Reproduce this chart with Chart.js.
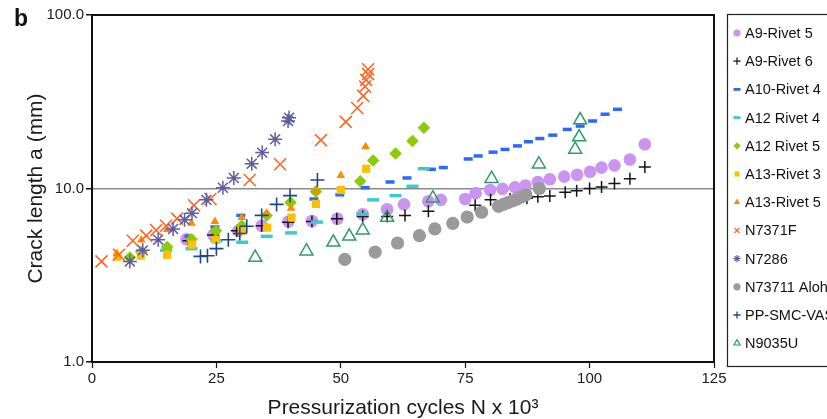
<!DOCTYPE html>
<html>
<head>
<meta charset="utf-8">
<script src="https://cdn.jsdelivr.net/npm/chart.js"></script>
<style>
    html, body { margin: 0; padding: 0; background: #fff; overflow: hidden; }
    #wrap { position: relative; width: 880px; height: 419px; }
    #panel { position: absolute; left: 14px; top: 5px; font: bold 23px "Liberation Sans", Arial, sans-serif; color: #111; }
</style>
</head>
<body>
<div id="wrap">
    <canvas id="crackChart"></canvas>
    <div id="panel">b</div>
</div>
<script>
/* ============================================
   DATA  (x = cycles x10^3, y = crack length mm)
============================================ */
const seriesNames = [
    'A9-Rivet 5', 'A9-Rivet 6', 'A10-Rivet 4', 'A12 Rivet 4',
    'A12 Rivet 5', 'A13-Rivet 3', 'A13-Rivet 5', 'N7371F',
    'N7286', 'N73711 Aloha', 'PP-SMC-VASI', 'N9035U'
];
const xTicks = [0, 25, 50, 75, 100, 125];
const yTicks = [1, 10, 100];

const a9Rivet5 = [[19.0,5.1],[24.4,5.4],[29.4,5.7],[34.1,6.1],[39.5,6.45],[44.2,6.5],[49.3,6.7],[54.4,7.1],
    [59.3,7.6],[62.7,8.1],[67.6,8.45],[70.1,8.6],[75.0,8.7],[77.1,9.4],[80.0,9.8],[82.5,9.95],[85.0,10.15],
    [87.1,10.4],[89.6,10.9],[92.0,11.3],[94.9,11.7],[97.5,12.0],[100.1,12.5],[102.4,13.2],[105.0,13.6],
    [108.1,14.7],[111.1,18.0]];
const a9Rivet6 = [[19.4,5.0],[24.3,5.4],[29.1,5.7],[34.1,6.1],[39.4,6.4],[44.2,6.45],[49.2,6.7],[54.4,6.9],
    [59.3,6.9],[62.9,7.0],[67.6,7.4],[77.0,8.0],[80.1,8.6],[84.0,8.7],[87.4,8.8],[89.6,8.95],[92.0,9.05],
    [95.1,9.5],[97.4,9.7],[100.0,10.0],[102.4,10.2],[105.0,10.7],[108.1,11.4],[111.1,13.3]];
const a10Rivet4 = [[19.5,5.3],[24.7,6.0],[29.9,7.0],[44.6,8.7],[49.8,9.2],[54.9,10.1],[59.9,10.9],[63.3,11.5],
    [68.2,12.9],[70.6,13.2],[75.6,14.8],[77.6,15.4],[80.6,16.2],[83.0,16.8],[85.5,17.6],[87.7,18.6],
    [90.0,19.4],[92.6,20.3],[95.5,21.9],[98.1,22.9],[100.6,24.5],[103.1,26.8],[105.6,28.6]];
const a12Rivet4 = [[14.9,4.4],[20.0,4.5],[25.0,5.0],[30.2,4.9],[35.1,5.3],[40.0,5.55],[45.2,6.4],
    [54.3,7.1],[56.5,8.6],[61.0,9.1],[64.4,10.3],[66.7,13.0]];
const a12Rivet5 = [[7.6,4.0],[9.9,4.3],[15.1,4.6],[20.0,5.1],[24.9,5.7],[30.1,6.1],[35.1,7.0],[39.9,8.3],
    [45.0,9.6],[53.9,11.0],[56.5,14.5],[61.0,15.9],[64.4,18.8],[66.7,22.4]];
const a13Rivet3 = [[5.1,4.05],[9.8,4.1],[15.1,4.15],[20.1,4.75],[24.9,5.05],[30.1,5.75],[35.2,5.95],
    [40.1,6.8],[45.0,8.15],[50.0,9.8],[55.1,13.0]];
const a13Rivet5 = [[5.0,4.2],[9.9,5.05],[15.1,5.8],[20.0,6.3],[24.7,6.45],[30.1,6.8],[35.1,7.2],[40.0,7.7],
    [45.0,9.6],[50.0,11.9],[55.0,17.4]];
const n7371F = [[1.9,3.8],[5.4,4.15],[8.2,5.0],[10.9,5.35],[12.9,5.75],[14.9,6.1],[17.1,6.7],[20.5,8.0],
    [23.8,8.7],[31.7,11.2],[37.8,13.8],[46.0,19.0],[51.0,24.2],[53.3,29.1],[54.5,34.2],[54.9,38.7],
    [55.1,42.3],[55.5,45.6],[55.5,48.7]];
const n7286 = [[7.6,3.8],[10.2,4.4],[13.3,5.07],[16.3,5.85],[18.6,6.6],[20.1,7.2],[23.0,8.6],[26.3,10.1],
    [28.5,11.5],[32.1,13.9],[34.2,16.1],[36.8,19.2],[39.4,24.5],[39.6,25.6]];
const n73711Aloha = [[50.8,3.9],[56.9,4.3],[61.4,4.85],[65.8,5.35],[68.9,5.85],[72.5,6.3],[75.4,6.85],
    [78.3,7.3],[81.7,7.9],[82.7,8.1],[83.6,8.3],[84.5,8.5],[85.4,8.7],[86.3,8.95],[87.2,9.2],[89.9,10.0]];
const ppSmcVasi = [[21.8,4.06],[23.2,4.1],[25.0,4.5],[27.4,5.07],[29.7,5.5],[31.1,6.06],[34.1,7.0],
    [37.1,8.1],[39.8,9.1],[45.3,11.2]];
const n9035U = [[32.8,4.0],[43.1,4.35],[48.5,4.9],[51.7,5.3],[54.4,5.75],[59.3,6.8],[68.5,8.8],[80.3,11.4],
    [89.8,13.8],[97.1,16.8],[97.9,19.8],[98.1,24.8]];

const seriesData = [a9Rivet5, a9Rivet6, a10Rivet4, a12Rivet4, a12Rivet5, a13Rivet3,
    a13Rivet5, n7371F, n7286, n73711Aloha, ppSmcVasi, n9035U];

/* ============================================
   MARKER STYLES
============================================ */
const markerStyles = [
    { style: 'circle',   color: '#c994f2', r: 6.3, fill: true,  lw: 0 },
    { style: 'cross',    color: '#151515', r: 6,   fill: false, lw: 1.5 },
    { style: 'line',     color: '#2b68ff', r: 4.5, fill: false, lw: 3.5 },
    { style: 'line',     color: '#3ccacc', r: 6,   fill: false, lw: 3.5 },
    { style: 'rectRot',  color: '#8ccb0c', r: 6.3, fill: true,  lw: 0 },
    { style: 'rect',     color: '#ffc000', r: 5.8, fill: true,  lw: 0 },
    { style: 'triangle', color: '#ff8a00', r: 5,   fill: true,  lw: 0 },
    { style: 'crossRot', color: '#ff6624', r: 8.5, fill: false, lw: 1.6 },
    { style: 'star',     color: '#5d5ea2', r: 7,   fill: false, lw: 1.5 },
    { style: 'circle',   color: '#9a9a9a', r: 6.6, fill: true,  lw: 0 },
    { style: 'cross',    color: '#1d4a80', r: 7,   fill: false, lw: 1.6 },
    { style: 'triangle', color: '#2f9c66', r: 7.5, fill: false, lw: 1.5 }
];

const FONT = "'Liberation Sans', Arial, sans-serif";

/* ============================================
   PLUGINS: frame + boxed legend
============================================ */
const framePlugin = {
    id: 'frame',
    beforeDatasetsDraw(chart) {
        const { ctx, chartArea: a } = chart;
        ctx.save();
        ctx.strokeStyle = '#111';
        ctx.lineWidth = 2;
        ctx.strokeRect(a.left, a.top, a.right - a.left, a.bottom - a.top);
        ctx.restore();
    }
};

const legendBoxPlugin = {
    id: 'legendBox',
    afterDraw(chart) {
        const ctx = chart.ctx;
        ctx.save();
        ctx.strokeStyle = '#222';
        ctx.lineWidth = 1.2;
        ctx.strokeRect(727.5, 14.5, 300, 352);
        ctx.font = '14.5px ' + FONT;
        ctx.textBaseline = 'middle';
        ctx.textAlign = 'left';
        seriesNames.forEach((name, i) => {
            const y = 33 + i * 28.2;
            const m = markerStyles[i];
            ctx.fillStyle = m.fill ? m.color : 'rgba(0,0,0,0)';
            ctx.strokeStyle = m.color;
            ctx.lineWidth = m.fill ? 0 : Math.max(1.2, m.lw * 0.8);
            Chart.helpers.drawPoint(ctx, {
                pointStyle: m.style,
                radius: m.style === 'line' ? 3.5 : 3.6,
                rotation: 0,
                borderWidth: m.fill ? 0 : ctx.lineWidth
            }, 737, y);
            ctx.fillStyle = '#111';
            ctx.fillText(name, 745, y + 1);
        });
        ctx.restore();
    }
};

/* ============================================
   SCATTER CHART
============================================ */
function initCrackChart() {
    const canvas = document.getElementById('crackChart');
    if (!canvas) return;

    const datasets = seriesNames.map((name, i) => {
        const m = markerStyles[i];
        return {
            label: name,
            data: seriesData[i].map(p => ({ x: p[0], y: p[1] })),
            pointStyle: m.style,
            pointRadius: m.r,
            pointHoverRadius: m.r,
            backgroundColor: m.fill ? m.color : 'rgba(0,0,0,0)',
            borderColor: m.color,
            borderWidth: m.lw,
            showLine: false,
            order: -i
        };
    });

    new Chart(canvas.getContext('2d'), {
        type: 'scatter',
        data: { datasets },
        options: {
            responsive: true,
            maintainAspectRatio: false,
            animation: false,
            layout: { padding: { left: 0, top: 15, right: 166, bottom: 0 } },
            plugins: {
                legend: { display: false },
                tooltip: { enabled: false }
            },
            scales: {
                x: {
                    type: 'linear',
                    min: xTicks[0],
                    max: xTicks[xTicks.length - 1],
                    afterBuildTicks: s => { s.ticks = xTicks.map(v => ({ value: v })); },
                    afterFit: s => { s.height = 57; },
                    grid: { drawOnChartArea: false, tickLength: 6, tickColor: '#111', tickWidth: 1.2 },
                    border: { display: true, color: '#111', width: 2 },
                    ticks: {
                        color: '#1a1a1a',
                        padding: 2,
                        maxRotation: 0,
                        font: { family: FONT, size: 15 }
                    },
                    title: {
                        display: true,
                        text: 'Pressurization cycles N x 10³',
                        color: '#1a1a1a',
                        font: { family: FONT, size: 21, lineHeight: 1 },
                        padding: { top: 0, bottom: 0 }
                    }
                },
                y: {
                    type: 'logarithmic',
                    min: yTicks[0],
                    max: yTicks[yTicks.length - 1],
                    afterBuildTicks: s => { s.ticks = yTicks.map(v => ({ value: v })); },
                    afterFit: s => { s.width = 92; },
                    grid: {
                        color: c => (c.tick && c.tick.value === 10) ? '#8a8a8a' : 'rgba(0,0,0,0)',
                        lineWidth: 1.5,
                        tickLength: 6,
                        tickColor: '#111'
                    },
                    border: { display: true, color: '#111', width: 2 },
                    ticks: {
                        color: '#1a1a1a',
                        padding: 2,
                        font: { family: FONT, size: 15 },
                        callback: v => Number(v).toFixed(1)
                    },
                    title: {
                        display: true,
                        text: 'Crack length a (mm)',
                        color: '#1a1a1a',
                        font: { family: FONT, size: 21, lineHeight: 1 },
                        padding: { top: 26, bottom: 0 }
                    }
                }
            }
        },
        plugins: [framePlugin, legendBoxPlugin]
    });
}

/* ============================================
   INIT
============================================ */
document.addEventListener('DOMContentLoaded', () => {
    initCrackChart();
});
</script>
</body>
</html>
